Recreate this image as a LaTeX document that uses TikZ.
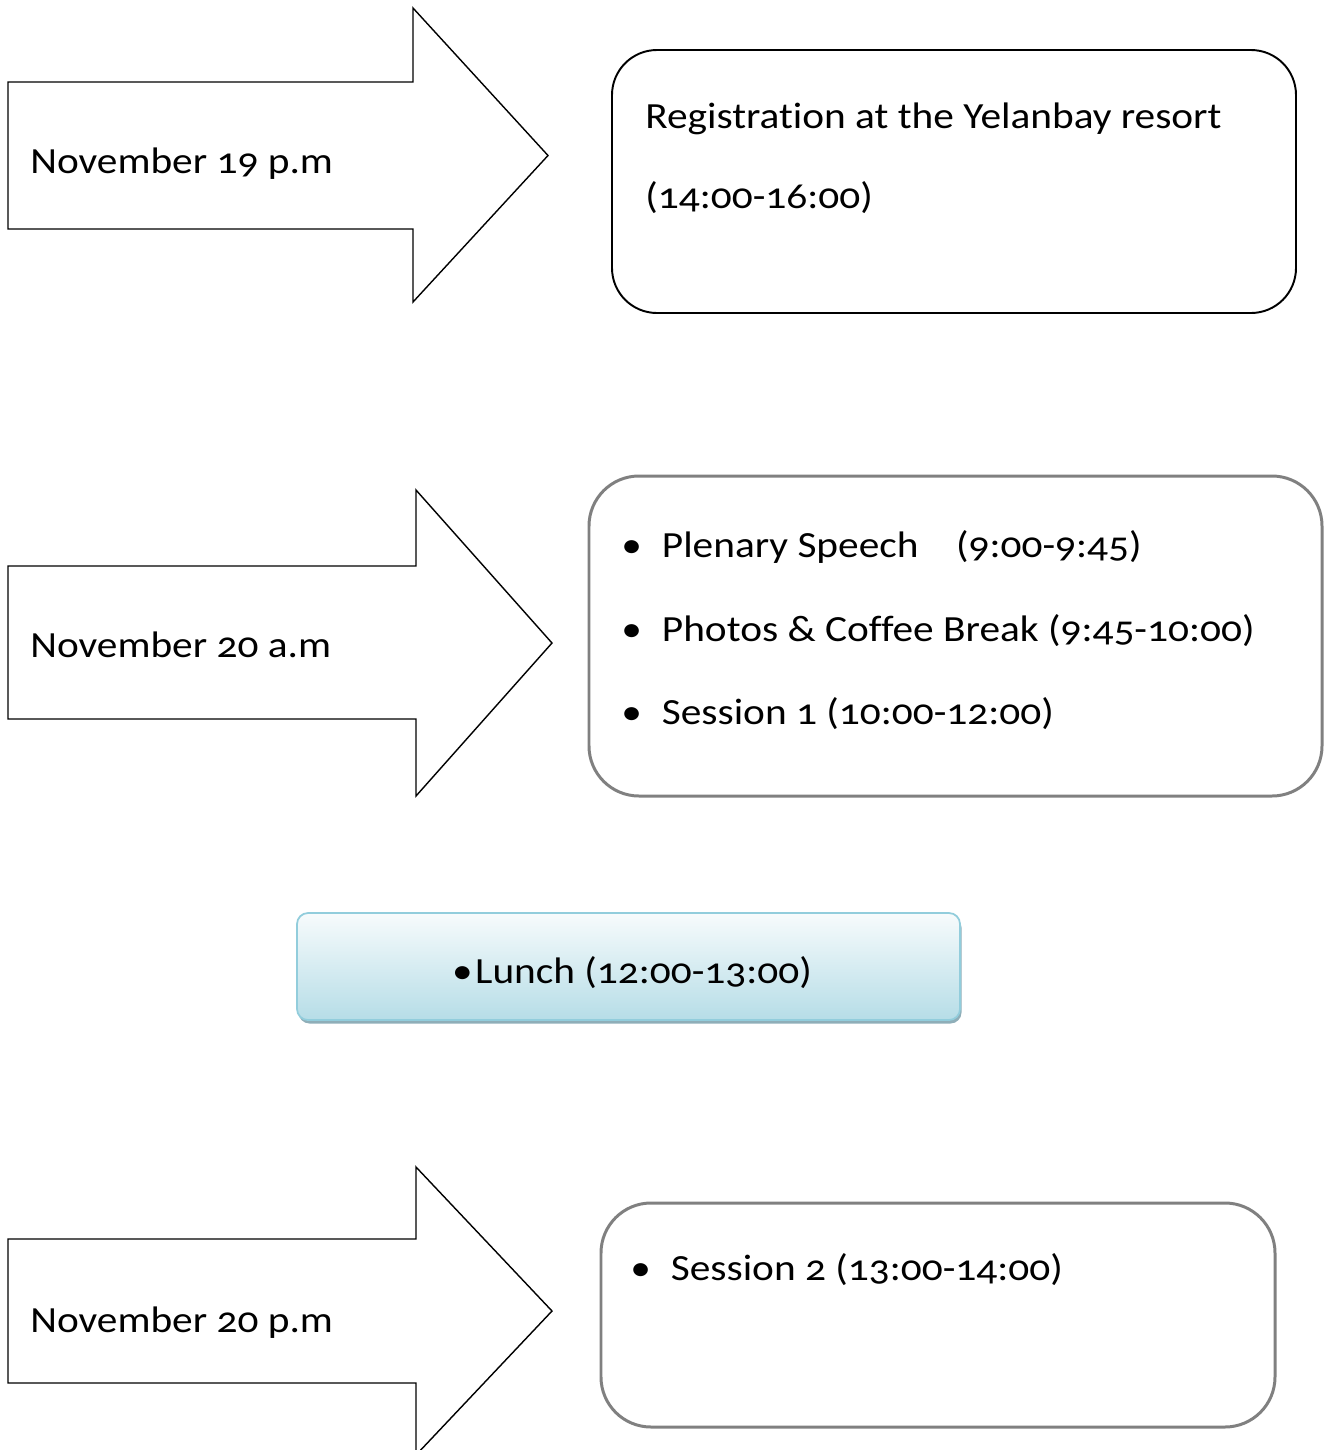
\documentclass[tikz,border=0pt]{standalone}
\usepackage{fontspec}
\setmainfont{Carlito}[Numbers=OldStyle, FakeStretch=1.12, Ligatures=NoCommon]
\usetikzlibrary{shadows}
\definecolor{lunchtop}{HTML}{F7FBFC}
\definecolor{lunchbot}{HTML}{B6DDE7}
\definecolor{lunchline}{HTML}{92CDDC}
\definecolor{lunchshadow}{HTML}{8FAEB8}
\begin{document}
\begin{tikzpicture}[
    every node/.style={inner sep=0pt, font=\fontsize{21}{25}\selectfont},
    dayarrow/.style={draw=black, line width=0.8pt, fill=white, line join=miter},
    daybox/.style={draw=black, line width=1.1pt, rounded corners=0.9cm},
    greybox/.style={draw=black!50, line width=1.7pt, rounded corners=1.0cm},
    lunchbox/.style={draw=lunchline, line width=1pt, rounded corners=0.22cm,
        top color=lunchtop, bottom color=lunchbot,
        drop shadow={shadow xshift=0.03cm, shadow yshift=-0.07cm, fill=lunchshadow, opacity=1}},
    label/.style={anchor=base west}]
    \useasboundingbox (0,0) rectangle (26.5,-29);

    % arrows
    \draw[dayarrow] (0.16,-1.64) -- (8.26,-1.64) -- (8.26,-0.16) -- (10.96,-3.11)
        -- (8.26,-6.04) -- (8.26,-4.58) -- (0.16,-4.58) -- cycle;
    \draw[dayarrow] (0.16,-11.32) -- (8.32,-11.32) -- (8.32,-9.80) -- (11.04,-12.86)
        -- (8.32,-15.92) -- (8.32,-14.38) -- (0.16,-14.38) -- cycle;
    \draw[dayarrow] (0.16,-24.78) -- (8.32,-24.78) -- (8.32,-23.34) -- (11.04,-26.22)
        -- (8.32,-29.10) -- (8.32,-27.66) -- (0.16,-27.66) -- cycle;

    \node[label] (nov19)   at (0.6,-3.46)  {November 19 p.m};
    \node[label] (nov20am) at (0.6,-13.14) {November 20 a.m};
    \node[label] (nov20pm) at (0.6,-26.64) {November 20 p.m};

    % boxes
    \node[daybox, minimum width=13.68cm, minimum height=5.26cm] (regbox) at (19.08,-3.63) {};
    \node[greybox, minimum width=14.66cm, minimum height=6.4cm] (ambox) at (19.11,-12.72) {};
    \node[lunchbox, minimum width=13.26cm, minimum height=2.14cm] (lunchbox) at (12.57,-19.33) {};
    \node[greybox, minimum width=13.48cm, minimum height=4.48cm] (pmbox) at (18.76,-26.3) {};

    \node[label] (reg)     at (12.9,-2.56) {Registration at the Yelanbay resort};
    \node[label] (regtime) at (12.9,-4.16) {(14:00-16:00)};

    \node[label] (plenary) at (12.42,-11.14) {•\hspace{0.4cm}Plenary Speech\hspace{0.75cm}(9:00-9:45)};
    \node[label] (coffee)  at (12.42,-12.82) {•\hspace{0.4cm}Photos \& Coffee Break (9:45-10:00)};
    \node[label] (sess1)   at (12.42,-14.48) {•\hspace{0.4cm}Session 1 (10:00-12:00)};

    \node[anchor=base] (lunch) at (12.64,-19.66) {•\hspace{0.05cm}Lunch (12:00-13:00)};

    \node[label] (sess2)   at (12.6,-25.6) {•\hspace{0.4cm}Session 2 (13:00-14:00)};
\end{tikzpicture}
\end{document}
